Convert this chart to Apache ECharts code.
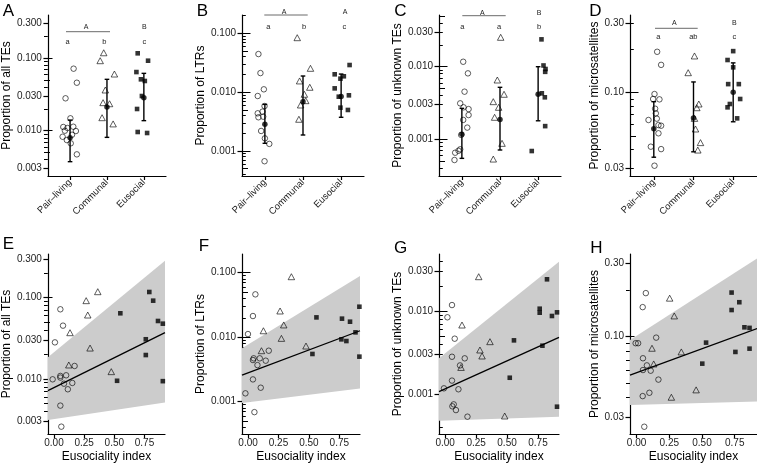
<!DOCTYPE html>
<html><head><meta charset="utf-8">
<script src="https://cdn.jsdelivr.net/npm/echarts@6/dist/echarts.min.js"></script>
<style>html,body{margin:0;padding:0;background:#fff}#chart{width:757px;height:464px}</style>
</head><body><div id="chart"></div>
<script>
const groups = ['Pair\u2013living', 'Communal', 'Eusocial'];

// ---- Panel A: proportion of all TEs ----
const allPairVal = [0.0713,0.0457,0.0279,0.0148,0.01125,0.0109,0.01135,0.0100,0.0099,0.00826,0.00744,0.0088,0.00671,0.00473];
const allPairJit = [0.096,0.184,-0.123,0.009,-0.184,-0.07,0.088,-0.14,0.158,-0.202,-0.088,0.053,0.018,0.184];
const allCommVal = [0.118,0.0918,0.0602,0.0363,0.0243,0.0235,0.0151,0.0124];
const allCommJit = [-0.088,-0.184,0.202,-0.044,-0.105,0.07,-0.132,0.167];
const allEuVal = [0.116,0.0918,0.0641,0.0509,0.0483,0.030,0.0199,0.0096,0.0093];
const allEuJit = [-0.167,0.114,-0.202,-0.079,0.026,-0.053,-0.184,-0.167,0.088];
const allMean = [0.0080,0.0212,0.0284];
const allLow = [0.00375,0.0081,0.01375];
const allHigh = [0.0140,0.0509,0.0615];

// ---- Panel B: proportion of LTRs ----
const ltrPairVal = [0.0444,0.0211,0.01117,0.0086,0.0058,0.00437,0.00466,0.00374,0.00383,0.00219,0.00164,0.00132,0.00067];
const ltrPairJit = [-0.169,-0.116,-0.027,-0.187,-0.009,-0.187,-0.062,-0.169,-0.044,-0.098,0,0.116,-0.009];
const ltrCommVal = [0.0842,0.0254,0.0155,0.0121,0.0092,0.00605,0.00716,0.00346];
const ltrCommJit = [-0.151,0.196,-0.089,0.178,0.036,-0.062,0.071,-0.107];
const ltrEuVal = [0.0289,0.0201,0.0186,0.01695,0.0116,0.00883,0.00837,0.00545,0.00498];
const ltrEuJit = [0.222,-0.169,0.071,-0.018,-0.169,0.204,-0.062,-0.018,0.178];
const ltrMean = [0.00284,0.00689,0.0084];
const ltrLow = [0.00135,0.00187,0.00374];
const ltrHigh = [0.0062,0.0188,0.0203];

// ---- Panel C: proportion of unknown TEs ----
const unkPairVal = [0.0117,0.0081,0.00453,0.00313,0.00261,0.00276,0.00216,0.00185,0.00145,0.00115,0.000696,0.000654,0.000728,0.000519];
const unkPairJit = [0.035,0.159,0.07,-0.044,0.176,0.044,0.176,0.035,0.141,-0.018,-0.088,-0.176,-0.044,-0.194];
const unkCommVal = [0.0254,0.00656,0.00417,0.0033,0.00276,0.00201,0.00088,0.000535];
const unkCommJit = [0.018,-0.07,0.106,-0.176,-0.035,-0.141,0.053,-0.176];
const unkEuVal = [0.0238,0.0104,0.0093,0.0085,0.0043,0.00379,0.00152,0.00069];
const unkEuJit = [0.088,0.141,0.194,0.185,0.097,0.176,0.185,-0.167];
const unkMean = [0.00117,0.00188,0.00417];
const unkLow = [0.000547,0.000713,0.0018];
const unkHigh = [0.00267,0.0052,0.0100];

// ---- Panel D: proportion of microsatellites ----
const micPairVal = [0.191,0.155,0.0973,0.0899,0.0894,0.0770,0.0643,0.0715,0.0657,0.0593,0.0587,0.052,0.042,0.0404,0.031];
const micPairJit = [0.084,0.184,0.017,-0.017,0.142,0.033,-0.134,0.05,0.075,0.117,0.184,0.117,-0.075,0.184,0.017];
const micCommVal = [0.1787,0.1368,0.083,0.0782,0.066,0.0557,0.0448,0.0398];
const micCommJit = [0.025,-0.134,0.134,0.084,0.025,0.05,0.176,0.109];
const micEuVal = [0.193,0.1675,0.149,0.114,0.114,0.0899,0.083,0.0787,0.066];
const micEuJit = [0,-0.142,0,-0.126,0.142,0.176,-0.084,-0.142,0.1];
const micMean = [0.056,0.0663,0.100];
const micLow = [0.0355,0.0387,0.0625];
const micHigh = [0.0861,0.118,0.160];

// ---- Panels E-H: versus eusociality index ----
const fitX = [-0.05, 0.92];

const eCircX = [0.053,0.075,0.008,0.171,-0.011,0.053,0.053,0.101,0.083,0.152,0.115,0.053,0.061];
const eCircY = [0.072,0.0453,0.0282,0.01445,0.0099,0.0109,0.0104,0.0111,0.00875,0.00893,0.00747,0.0047,0.00259];
const eTriX = [0.363,0.267,0.28,0.133,0.299,0.123,0.475];
const eTriY = [0.1185,0.0919,0.0612,0.0371,0.024,0.01486,0.0123];
const eSqX = [0.79,0.822,0.55,0.862,0.902,0.761,0.761,0.523,0.902];
const eSqY = [0.1175,0.0919,0.0643,0.0517,0.0479,0.0308,0.0197,0.0095,0.0094];
const eFit = [0.00718,0.0371];
const eLo = [0.00313,0.00512];
const eHi = [0.0185,0.285];

const fCircX = [0.060,0.040,-0.001,0.046,0.040,0.096,0.145,0.17,0.077,0.040,0.104,-0.022,0.052];
const fCircY = [0.0462,0.0213,0.0112,0.00471,0.00443,0.00471,0.00433,0.00618,0.0037,0.00222,0.00165,0.00135,0.00069];
const fTriX = [0.356,0.263,0.293,0.126,0.274,0.11,0.476];
const fTriY = [0.0867,0.0255,0.0155,0.0126,0.0096,0.00618,0.0073];
const fSqX = [0.915,0.562,0.772,0.838,0.883,0.767,0.808,0.529,0.915];
const fSqY = [0.0297,0.0203,0.0194,0.0174,0.0119,0.00927,0.00873,0.0055,0.005];
const fFit = [0.00259,0.0126];
const fLo = [0.00096,0.00161];
const fHi = [0.00673,0.0889];

const gCircX = [0.055,0.018,0.077,0.055,0.158,0.12,0.055,-0.01,0.107,0.069,0.058,0.087,0.18];
const gCircY = [0.0118,0.0084,0.00464,0.00281,0.00269,0.00221,0.00145,0.00117,0.00114,0.00075,0.00071,0.00064,0.000533];
const gTriX = [0.271,0.136,0.362,0.281,0.298,0.128,0.481];
const gTriY = [0.0259,0.00678,0.00427,0.00339,0.00287,0.00209,0.000543];
const gSqX = [0.823,0.764,0.764,0.904,0.863,0.556,0.786,0.522,0.904];
const gSqY = [0.0241,0.01066,0.00954,0.00964,0.00871,0.00443,0.00382,0.00157,0.000703];
const gFit = [0.00107,0.00482];
const gLo = [0.000476,0.000533];
const gHi = [0.00269,0.0393];

const hCircX = [0.071,0.047,-0.007,0.012,0.15,0.049,0.079,0.049,0.108,0.167,0.047,0.098,0.059];
const hCircY = [0.192,0.1556,0.0906,0.0906,0.0985,0.0723,0.065,0.0606,0.060,0.0525,0.041,0.0431,0.0259];
const hTriX = [0.253,0.288,0.118,0.342,0.131,0.455,0.266];
const hTriY = [0.178,0.1364,0.084,0.0795,0.0664,0.045,0.0403];
const hSqX = [0.726,0.785,0.726,0.824,0.863,0.531,0.755,0.863,0.502];
const hSqY = [0.1936,0.1675,0.149,0.115,0.114,0.0914,0.0795,0.0835,0.0667];
const hFit = [0.0562,0.1128];
const hLo = [0.0359,0.0378];
const hHi = [0.0952,0.323];

// ---- tick labels ----
const ticksAll = [0.003,0.01,0.03,0.1,0.3];
const ticksLTR = [0.001,0.01,0.1];
const ticksUnk = [0.001,0.003,0.01,0.03];
const ticksMic = [0.03,0.1,0.3];
const ticksIndex = [0, 0.25, 0.5, 0.75];

const FONT = '"Liberation Sans", Arial, Helvetica, sans-serif';
const lg = v => Math.log10(v);

const topPanels = [
  {title:'Proportion of all TEs', grid:{left:44,top:15,width:122,height:161}, yr:[-2.623,-0.4085], labels:ticksAll, dec:3, gap:26,
   pair:[allPairVal,allPairJit], comm:[allCommVal,allCommJit], eu:[allEuVal,allEuJit], mean:allMean, lo:allLow, hi:allHigh},
  {title:'Proportion of LTRs', grid:{left:242,top:15,width:122,height:161}, yr:[-3.425,-0.689], labels:ticksLTR, dec:3, gap:31,
   pair:[ltrPairVal,ltrPairJit], comm:[ltrCommVal,ltrCommJit], eu:[ltrEuVal,ltrEuJit], mean:ltrMean, lo:ltrLow, hi:ltrHigh},
  {title:'Proportion of unknown TEs', grid:{left:439,top:15,width:122,height:161}, yr:[-3.505,-1.288], labels:ticksUnk, dec:3, gap:32,
   pair:[unkPairVal,unkPairJit], comm:[unkCommVal,unkCommJit], eu:[unkEuVal,unkEuJit], mean:unkMean, lo:unkLow, hi:unkHigh},
  {title:'Proportion of microsatellites', grid:{left:630,top:15,width:127,height:161}, yr:[-1.58,-0.464], labels:ticksMic, dec:2, gap:27.5,
   pair:[micPairVal,micPairJit], comm:[micCommVal,micCommJit], eu:[micEuVal,micEuJit], mean:micMean, lo:micLow, hi:micHigh}
];
const botPanels = [
  {title:'Proportion of all TEs', grid:{left:44,top:254,width:121,height:180}, yr:[-2.677,-0.4625], labels:ticksAll, dec:3, gap:26,
   circ:[eCircX,eCircY], tri:[eTriX,eTriY], sq:[eSqX,eSqY], fit:eFit, lo:eLo, hi:eHi},
  {title:'Proportion of LTRs', grid:{left:242,top:254,width:118,height:180}, yr:[-3.5,-0.71], labels:ticksLTR, dec:3, gap:33,
   circ:[fCircX,fCircY], tri:[fTriX,fTriY], sq:[fSqX,fSqY], fit:fFit, lo:fLo, hi:fHi},
  {title:'Proportion of unknown TEs', grid:{left:439,top:254,width:120,height:180}, yr:[-3.482,-1.313], labels:ticksUnk, dec:3, gap:32,
   circ:[gCircX,gCircY], tri:[gTriX,gTriY], sq:[gSqX,gSqY], fit:gFit, lo:gLo, hi:gHi},
  {title:'Proportion of microsatellites', grid:{left:630,top:254,width:131,height:180}, yr:[-1.634,-0.462], labels:ticksMic, dec:2, gap:27.5,
   circ:[hCircX,hCircY], tri:[hTriX,hTriY], sq:[hSqX,hSqY], fit:hFit, lo:hLo, hi:hHi}
];

function logLadder(min, max) {
  const out = {long:[], mid:[], short:[]};
  for (let d = Math.floor(min) - 1; d <= Math.ceil(max); d++) {
    for (let m = 1; m <= 9; m++) {
      const v = d + Math.log10(m);
      if (v < min || v > max) continue;
      (m === 1 ? out.long : m === 5 ? out.mid : out.short).push(v);
    }
  }
  return out;
}

const grids = [], xAxes = [], yAxes = [], series = [];
const TXT = '#222';
const axisLineStyle = {color:'#000', width:1.2};

function addYAxes(i, p) {
  const lv = p.labels.map(lg);
  yAxes.push({
    type:'value', gridIndex:i, position:'left', min:p.yr[0], max:p.yr[1],
    name:p.title, nameLocation:'middle', nameGap:p.gap, nameRotate:90,
    nameTextStyle:{fontSize:12, color:'#000', fontFamily:FONT},
    axisLine:{show:true, onZero:false, lineStyle:axisLineStyle},
    axisTick:{show:true, length:4.5, customValues:lv, lineStyle:axisLineStyle},
    axisLabel:{show:true, customValues:lv, formatter:v => Math.pow(10, v).toFixed(p.dec), fontSize:10, color:TXT, margin:6, fontFamily:FONT},
    splitLine:{show:false}
  });
  // log-tick ladder drawn on the inner side of the y axis (right-positioned axis shifted onto the left edge)
  const lad = logLadder(p.yr[0], p.yr[1]);
  [[lad.long, 8.5], [lad.mid, 6], [lad.short, 3.8]].forEach(([vals, len]) => {
    yAxes.push({
      type:'value', gridIndex:i, position:'right', offset:-p.grid.width, min:p.yr[0], max:p.yr[1],
      axisLine:{show:false, onZero:false}, axisLabel:{show:false}, splitLine:{show:false},
      axisTick:{show:true, inside:false, length:len, customValues:vals, lineStyle:{color:'#000', width:1}}
    });
  });
}

const openStyle = {color:'rgba(0,0,0,0)', borderColor:'#000', borderWidth:0.8};
function scat(i, data, kind) {
  const s = {type:'scatter', xAxisIndex:i, yAxisIndex:4 * i, data:data, silent:true, z:3};
  if (kind === 'circle') Object.assign(s, {symbol:'circle', symbolSize:5.5, itemStyle:openStyle});
  if (kind === 'triangle') Object.assign(s, {symbol:'triangle', symbolSize:[6.5, 6], itemStyle:openStyle});
  if (kind === 'square') Object.assign(s, {symbol:'rect', symbolSize:4.6, itemStyle:{color:'#000'}});
  return s;
}

topPanels.forEach((p, i) => {
  grids.push(Object.assign({containLabel:false}, p.grid));
  xAxes.push({
    type:'value', gridIndex:i, min:0.4, max:3.6,
    axisLine:{show:true, onZero:false, lineStyle:axisLineStyle},
    axisTick:{show:true, length:4, customValues:[1,2,3], lineStyle:axisLineStyle},
    axisLabel:{show:true, customValues:[1,2,3], formatter:v => groups[Math.round(v) - 1], rotate:45, fontSize:9.5, color:TXT, margin:5, fontFamily:FONT},
    splitLine:{show:false}
  });
  addYAxes(i, p);
  [[p.pair, 1, 'circle'], [p.comm, 2, 'triangle'], [p.eu, 3, 'square']].forEach(([arr, c, kind]) => {
    series.push(scat(i, arr[0].map((v, k) => [c + arr[1][k], lg(v)]), kind));
  });
  series.push({
    type:'custom', xAxisIndex:i, yAxisIndex:4 * i, silent:true, z:4,
    data:[0,1,2].map(k => [k + 1, lg(p.lo[k]), lg(p.hi[k])]),
    encode:{x:0, y:[1,2]},
    renderItem:(params, api) => {
      const x = api.value(0);
      const a = api.coord([x, api.value(2)]);
      const b = api.coord([x, api.value(1)]);
      const w = 2.3, st = {stroke:'#000', lineWidth:1.4};
      return {type:'group', children:[
        {type:'line', shape:{x1:a[0], y1:a[1], x2:b[0], y2:b[1]}, style:st},
        {type:'line', shape:{x1:a[0]-w, y1:a[1], x2:a[0]+w, y2:a[1]}, style:st},
        {type:'line', shape:{x1:b[0]-w, y1:b[1], x2:b[0]+w, y2:b[1]}, style:st}
      ]};
    }
  });
  series.push({type:'scatter', xAxisIndex:i, yAxisIndex:4 * i, silent:true, z:5, symbol:'circle', symbolSize:5.5,
    itemStyle:{color:'#000'}, data:p.mean.map((v, k) => [k + 1, lg(v)])});
});

botPanels.forEach((p, j) => {
  const i = j + 4;
  grids.push(Object.assign({containLabel:false}, p.grid));
  xAxes.push({
    type:'value', gridIndex:i, min:fitX[0], max:fitX[1],
    name:'Eusociality index', nameLocation:'middle', nameGap:17,
    nameTextStyle:{fontSize:12, color:'#000', fontFamily:FONT},
    axisLine:{show:true, onZero:false, lineStyle:axisLineStyle},
    axisTick:{show:true, length:4, customValues:ticksIndex, lineStyle:axisLineStyle},
    axisLabel:{show:true, customValues:ticksIndex, formatter:v => v.toFixed(2), fontSize:10, color:TXT, margin:4, fontFamily:FONT},
    splitLine:{show:false}
  });
  addYAxes(i, p);
  series.push({
    type:'custom', xAxisIndex:i, yAxisIndex:4 * i, silent:true, z:1,
    data:[[fitX[0], lg(p.lo[0]), lg(p.hi[0]), fitX[1], lg(p.lo[1]), lg(p.hi[1])]],
    encode:{x:[0,3], y:[1,2,4,5]},
    renderItem:(params, api) => ({
      type:'polygon',
      shape:{points:[
        api.coord([api.value(0), api.value(1)]), api.coord([api.value(3), api.value(4)]),
        api.coord([api.value(3), api.value(5)]), api.coord([api.value(0), api.value(2)])
      ]},
      style:{fill:'#cccccc'}
    })
  });
  series.push({type:'line', xAxisIndex:i, yAxisIndex:4 * i, silent:true, z:2, showSymbol:false, symbol:'none',
    lineStyle:{color:'#000', width:1.3}, data:fitX.map((x, k) => [x, lg(p.fit[k])])});
  [[p.circ, 'circle'], [p.tri, 'triangle'], [p.sq, 'square']].forEach(([arr, kind]) => {
    series.push(scat(i, arr[0].map((x, k) => [x, lg(arr[1][k])]), kind));
  });
});

// ---- annotations ----
const panelLetters = [['A',8.5,11],['B',202.5,11],['C',400.5,11],['D',595.5,11],['E',8.5,244.5],['F',204,246],['G',400.5,248],['H',596.5,248]];
const groupHeaders = [['A',86,26.7],['B',144.3,26.7],['A',284,11.7],['A',345,11.7],['A',482.3,12.7],['B',539,12.7],['A',674.3,23.3],['B',734.3,23.3]];
const groupLetters = [['a',67.7,41.7],['b',104.3,41.7],['c',144.3,41.7],['a',268.3,26.7],['b',304,26.7],['c',344.3,26.7],
  ['a',462.3,26.7],['a',499,26.7],['b',539,26.7],['a',658.3,37.3],['ab',693.3,37.3],['c',734.3,37.3]];
const brackets = [[66,110,31.7],[264.3,307.7,15],[462.3,505.7,15.7],[655,697.7,28.3]];

const graphic = [];
panelLetters.forEach(([t, x, y]) => graphic.push({type:'text', x:x, y:y, silent:true,
  style:{text:t, align:'center', verticalAlign:'middle', fontSize:17, fontFamily:FONT, fill:'#000'}}));
groupHeaders.forEach(([t, x, y]) => graphic.push({type:'text', x:x, y:y, silent:true,
  style:{text:t, align:'center', verticalAlign:'middle', fontSize:7, fontFamily:FONT, fill:'#222'}}));
groupLetters.forEach(([t, x, y]) => graphic.push({type:'text', x:x, y:y, silent:true,
  style:{text:t, align:'center', verticalAlign:'middle', fontSize:7.5, fontFamily:FONT, fill:'#222'}}));
brackets.forEach(([x1, x2, y]) => graphic.push({type:'line', silent:true,
  shape:{x1:x1, y1:y, x2:x2, y2:y}, style:{stroke:'#444', lineWidth:0.8}}));

const chart = echarts.init(document.getElementById('chart'), null, {renderer:'canvas'});
chart.setOption({
  animation:false,
  backgroundColor:'#fff',
  textStyle:{fontFamily:FONT},
  grid:grids, xAxis:xAxes, yAxis:yAxes, series:series, graphic:graphic
});
</script></body></html>
